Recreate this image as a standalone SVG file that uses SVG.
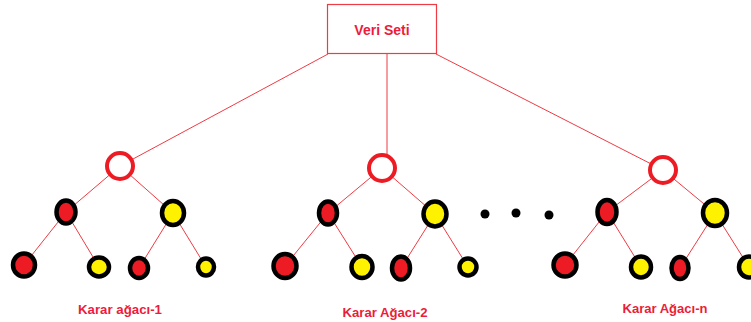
<svg xmlns="http://www.w3.org/2000/svg" width="751" height="322" viewBox="0 0 751 322">
  <style>
    .edge { stroke: #ee3b44; stroke-width: 1; fill: none; }
    .box { fill: #ffffff; stroke: #ee3b44; stroke-width: 1.2; }
    .root { fill: #ffffff; stroke: #ed1c24; stroke-width: 4; }
    .red { fill: #ed1c24; stroke: #000000; stroke-width: 4.5; }
    .yel { fill: #fff200; stroke: #000000; stroke-width: 4.5; }
    .dot { fill: #000000; }
    .lbl { font-family: "Liberation Sans", Arial, sans-serif; font-weight: bold; fill: #ec1c3a; text-anchor: middle; }
  </style>

  <!-- connectors -->
  <g id="connectors">
    <line class="edge" x1="328" y1="54" x2="120" y2="166"/>
    <line class="edge" x1="387" y1="54" x2="387" y2="154"/>
    <line class="edge" x1="436" y1="54" x2="663" y2="170"/>

    <!-- tree 1 -->
    <line class="edge" x1="120" y1="166" x2="66" y2="212"/>
    <line class="edge" x1="120" y1="166" x2="173" y2="213"/>
    <line class="edge" x1="66" y1="212" x2="24" y2="265"/>
    <line class="edge" x1="66" y1="212" x2="99" y2="267"/>
    <line class="edge" x1="173" y1="213" x2="139" y2="268"/>
    <line class="edge" x1="173" y1="213" x2="206" y2="267"/>

    <!-- tree 2 -->
    <line class="edge" x1="382" y1="168" x2="328" y2="213"/>
    <line class="edge" x1="382" y1="168" x2="435" y2="214"/>
    <line class="edge" x1="328" y1="213" x2="285" y2="266"/>
    <line class="edge" x1="328" y1="213" x2="362" y2="267"/>
    <line class="edge" x1="435" y1="214" x2="401" y2="268"/>
    <line class="edge" x1="435" y1="214" x2="468" y2="267"/>

    <!-- tree n -->
    <line class="edge" x1="663" y1="170" x2="607" y2="212"/>
    <line class="edge" x1="663" y1="170" x2="715" y2="213"/>
    <line class="edge" x1="607" y1="212" x2="565" y2="265"/>
    <line class="edge" x1="607" y1="212" x2="641" y2="267"/>
    <line class="edge" x1="715" y1="213" x2="680" y2="268"/>
    <line class="edge" x1="715" y1="213" x2="749" y2="267"/>
  </g>

  <!-- data set -->
  <g id="veri-seti">
    <rect class="box" x="327.5" y="4.5" width="109" height="49"/>
    <text class="lbl" x="382" y="35" font-size="14">Veri Seti</text>
  </g>

  <!-- decision tree 1 -->
  <g id="tree-1">
    <circle class="root" cx="120" cy="166" r="13"/>
    <ellipse class="red" cx="66" cy="212" rx="9.5" ry="11.5"/>
    <ellipse class="yel" cx="173" cy="213" rx="11" ry="12"/>
    <ellipse class="red" cx="24" cy="265" rx="11" ry="11.5"/>
    <ellipse class="yel" cx="99" cy="267" rx="10" ry="9.5"/>
    <ellipse class="red" cx="139" cy="268" rx="9" ry="10"/>
    <ellipse class="yel" cx="206" cy="267" rx="8" ry="8.5"/>
    <text class="lbl" x="120" y="314" font-size="13.5" textLength="84" lengthAdjust="spacingAndGlyphs">Karar ağacı-1</text>
  </g>

  <!-- decision tree 2 -->
  <g id="tree-2">
    <circle class="root" cx="382" cy="168" r="13"/>
    <ellipse class="red" cx="328" cy="213" rx="9" ry="11.5"/>
    <ellipse class="yel" cx="435" cy="214" rx="11.5" ry="12.5"/>
    <ellipse class="red" cx="285" cy="266" rx="11.5" ry="12"/>
    <ellipse class="yel" cx="362" cy="267" rx="10.5" ry="11"/>
    <ellipse class="red" cx="401" cy="268" rx="9" ry="11.5"/>
    <ellipse class="yel" cx="468" cy="267" rx="8.5" ry="8.5"/>
    <text class="lbl" x="385" y="317" font-size="13.5" textLength="85" lengthAdjust="spacingAndGlyphs">Karar Ağacı-2</text>
  </g>

  <!-- ellipsis between trees -->
  <g id="ellipsis">
    <circle class="dot" cx="485" cy="214" r="4.5"/>
    <circle class="dot" cx="516" cy="213" r="4.5"/>
    <circle class="dot" cx="549" cy="215" r="4.5"/>
  </g>

  <!-- decision tree n -->
  <g id="tree-n">
    <circle class="root" cx="663" cy="170" r="13"/>
    <ellipse class="red" cx="607" cy="212" rx="9.5" ry="12"/>
    <ellipse class="yel" cx="715" cy="213" rx="12" ry="13"/>
    <ellipse class="red" cx="565" cy="265" rx="11.5" ry="11.5"/>
    <ellipse class="yel" cx="641" cy="267" rx="10" ry="10.5"/>
    <ellipse class="red" cx="680" cy="268" rx="8.5" ry="11"/>
    <ellipse class="yel" cx="749" cy="267" rx="10" ry="10.5"/>
    <text class="lbl" x="665" y="313" font-size="13.5" textLength="85" lengthAdjust="spacingAndGlyphs">Karar Ağacı-n</text>
  </g>
</svg>
